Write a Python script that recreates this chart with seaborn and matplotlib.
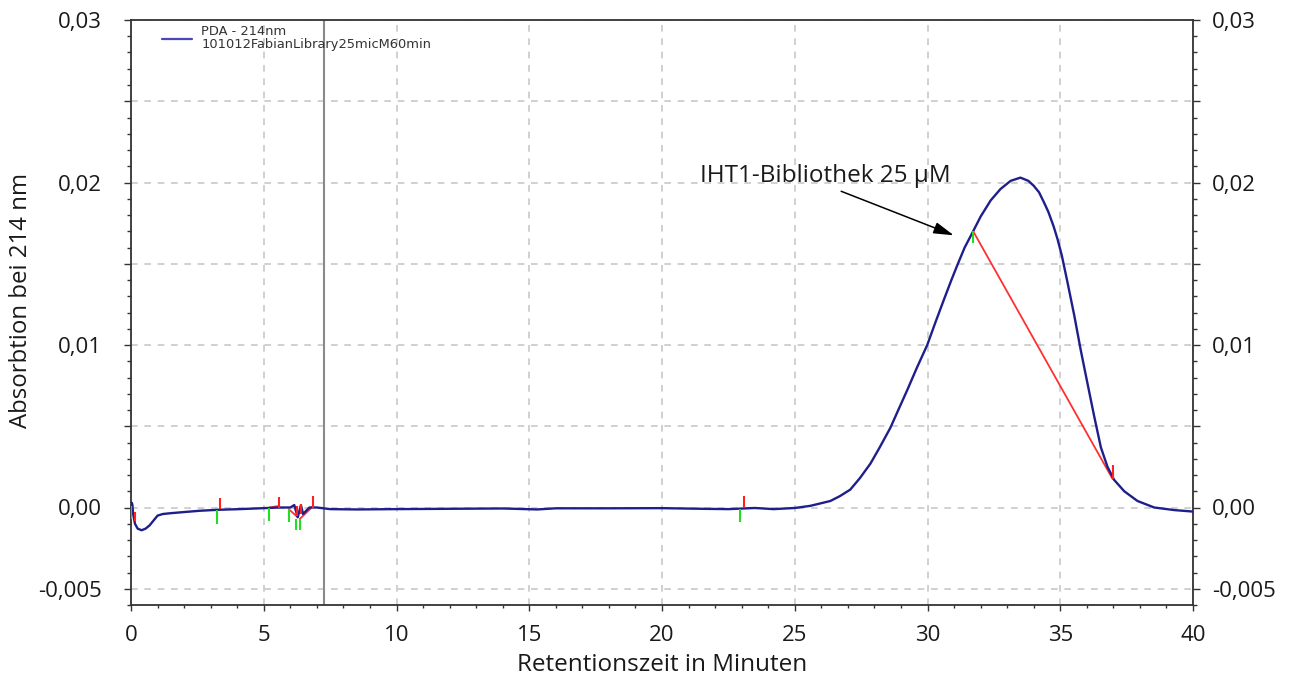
import matplotlib
matplotlib.use("Agg")
import matplotlib.pyplot as plt
from matplotlib.ticker import FixedLocator, MultipleLocator
import seaborn as sns
import pandas as pd

# PDA trace at 214 nm: retention time (min) and absorbance
time_min = [0.00, 0.02, 0.05, 0.08, 0.15, 0.25, 0.40, 0.55, 0.70, 0.85, 1.00,
            1.20, 1.50, 2.00, 2.60, 3.30, 4.10, 5.00, 5.60, 6.00, 6.15, 6.28,
            6.40, 6.48, 6.72, 7.00, 7.50, 8.50, 10.0, 12.0, 14.0, 15.3, 16.0,
            18.0, 20.0, 21.5, 22.5, 23.5, 24.2, 25.0, 25.58, 26.34, 26.70,
            27.09, 27.45, 27.85, 28.20, 28.60, 28.90, 29.23, 29.60, 29.99,
            30.30, 30.62, 30.90, 31.12, 31.40, 31.72, 32.00, 32.38, 32.75,
            33.13, 33.50, 33.80, 34.00, 34.20, 34.38, 34.55, 34.75, 34.90,
            35.06, 35.28, 35.53, 35.77, 36.03, 36.28, 36.53, 36.78, 37.03,
            37.41, 37.91, 38.54, 39.30, 40.00]
absorbance = [0.0000, 0.0003, 0.0002, -0.0004, -0.0010, -0.0013, -0.0014,
              -0.0013, -0.0011, -0.0008, -0.0005, -0.0004, -0.00035, -0.00028,
              -0.0002, -0.00014, -0.0001, -0.00004, 0.0000, 0.0000, 0.00015,
              -0.0006, 0.00015, -0.0004, 0.0000, 0.0000, -0.0001, -0.00012,
              -0.0001, -0.00008, -0.00006, -0.00012, -0.00005, -0.00005,
              -0.00004, -0.00008, -0.0001, -0.00003, -0.0001, -0.00003,
              0.0001, 0.0004, 0.0007, 0.0011, 0.0018, 0.0027, 0.0037, 0.0049,
              0.0060, 0.0072, 0.0086, 0.0100, 0.0114, 0.0128, 0.0140, 0.0149,
              0.0160, 0.0170, 0.0179, 0.0189, 0.0196, 0.0201, 0.0203, 0.0201,
              0.0198, 0.0194, 0.0188, 0.0182, 0.0173, 0.0165, 0.0155, 0.0138,
              0.0118, 0.0097, 0.0076, 0.0056, 0.0037, 0.0025, 0.0017, 0.0010,
              0.0004, 0.0000, -0.00016, -0.00025]

# integration baselines (start time, start value, end time, end value)
base_t0 = [5.21, 5.94, 6.36, 31.72]
base_y0 = [0.0000, -0.0001, -0.0007, 0.0170]
base_t1 = [5.58, 6.28, 6.87, 36.97]
base_y1 = [0.0001, -0.0006, 0.0001, 0.00176]

# peak start marks (green) and peak end marks (red)
start_t = [0.01, 3.23, 5.21, 5.94, 6.21, 6.36, 22.92, 31.72]
start_hi = [0.0001, -0.00016, 0.0000, -0.0001, -0.0007, -0.0007, -0.0001, 0.0170]
start_lo = [-0.0007, -0.0010, -0.0008, -0.0009, -0.0014, -0.0014, -0.0009, 0.0163]
end_t = [0.15, 3.35, 5.58, 6.25, 6.42, 6.87, 23.07, 36.97]
end_lo = [-0.00085, -0.0001, 0.0000, -0.0005, -0.0004, 0.0000, 0.0000, 0.00176]
end_hi = [-0.0003, 0.0006, 0.00065, 0.0001, 0.0002, 0.0007, 0.0007, 0.0026]

x_ticks = [0, 5, 10, 15, 20, 25, 30, 35, 40]
x_tick_labels = ["0", "5", "10", "15", "20", "25", "30", "35", "40"]
y_ticks = [-0.005, 0.0, 0.005, 0.01, 0.015, 0.02, 0.025, 0.03]
y_tick_labels = ["-0,005", "0,00", "", "0,01", "", "0,02", "", "0,03"]

legend_label = "PDA - 214nm\n101012FabianLibrary25micM60min"
peak_label = "IHT1-Bibliothek 25 \u00b5M"

sns.set_style("white")
plt.rcParams["font.family"] = ["Open Sans", "DejaVu Sans"]

trace = pd.DataFrame({"t": time_min, "a": absorbance})

fig = plt.figure(figsize=(12.9, 6.84), dpi=100)
ax = fig.add_axes([131 / 1290, 1 - 605 / 684, (1193 - 131) / 1290, (605 - 20) / 684])

sns.lineplot(data=trace, x="t", y="a", ax=ax, sort=False, estimator=None,
             color="#1f1f8c", linewidth=1.7, label=legend_label, zorder=4)

for t0, y0, t1, y1 in zip(base_t0, base_y0, base_t1, base_y1):
    ax.plot([t0, t1], [y0, y1], color="#ff3030", linewidth=1.3, zorder=3)
ax.vlines(start_t, start_lo, start_hi, color="#22dd22", linewidth=1.5, zorder=5)
ax.vlines(end_t, end_lo, end_hi, color="#ff2020", linewidth=1.5, zorder=5)

# injection marker
ax.axvline(7.26, color="#8a8a8a", linewidth=1.5, zorder=2)

ax.set_xlim(0, 40)
ax.set_ylim(-0.006, 0.03)
ax.xaxis.set_major_locator(FixedLocator(x_ticks))
ax.set_xticklabels(x_tick_labels)
ax.xaxis.set_minor_locator(MultipleLocator(1))
ax.yaxis.set_major_locator(FixedLocator(y_ticks))
ax.set_yticklabels(y_tick_labels)
ax.yaxis.set_minor_locator(MultipleLocator(0.001))

ax.grid(True, which="major", color="#c8c8c8", linestyle=(0, (4, 4)), linewidth=1.2)
ax.set_axisbelow(True)

for sp in ax.spines.values():
    sp.set_visible(True)
    sp.set_color("#333333")
    sp.set_linewidth(1.3)

tick_size = 16
ax.tick_params(axis="y", which="major", direction="out", length=5, width=1,
               pad=16, labelsize=tick_size, color="#333333", labelcolor="#1a1a1a")
ax.tick_params(axis="y", which="minor", direction="out", length=3, width=1,
               color="#333333", left=True)
ax.tick_params(axis="x", which="major", direction="out", length=4.5, width=1,
               pad=10, labelsize=tick_size, color="#333333", bottom=True,
               labelcolor="#1a1a1a")
ax.tick_params(axis="x", which="minor", direction="out", length=2.5, width=1,
               color="#333333", bottom=True)

ax2 = ax.twinx()
ax2.set_ylim(ax.get_ylim())
ax2.yaxis.set_major_locator(FixedLocator(y_ticks))
ax2.set_yticklabels(y_tick_labels)
ax2.yaxis.set_minor_locator(MultipleLocator(0.001))
ax2.tick_params(axis="y", which="major", direction="out", length=5, width=1,
                pad=8.5, labelsize=tick_size, color="#333333", right=True,
                labelcolor="#1a1a1a")
ax2.tick_params(axis="y", which="minor", direction="out", length=3, width=1,
                color="#333333", right=True)
for sp in ax2.spines.values():
    sp.set_visible(False)

ax.set_xlabel("Retentionszeit in Minuten", fontsize=17.5, labelpad=5,
              color="#1a1a1a")
ax.set_ylabel("Absorbtion bei 214 nm", fontsize=17.3, color="#1a1a1a")
ax.yaxis.set_label_coords(-0.092, 0.52)

ax.annotate(peak_label, xy=(30.99, 0.01675), xytext=(21.43, 0.0204),
            fontsize=17.5, ha="left", va="center", color="#1a1a1a",
            arrowprops=dict(arrowstyle="-|>,head_length=0.7,head_width=0.2",
                            color="black", linewidth=1.1,
                            shrinkA=0, shrinkB=0,
                            relpos=(0.53, 0.0)))

leg = ax.legend(loc="upper left", frameon=False,
                handlelength=2.3, handletextpad=0.7, borderaxespad=0.2,
                bbox_to_anchor=(0.022, 1.005),
                prop={"family": "DejaVu Sans", "size": 9.4})
leg.get_lines()[0].set_color("#4848b8")
leg.get_lines()[0].set_linewidth(1.6)
for txt in leg.get_texts():
    txt.set_color("#333333")
    txt.set_linespacing(1.05)

fig.savefig("out.png", dpi=100, facecolor="white")
